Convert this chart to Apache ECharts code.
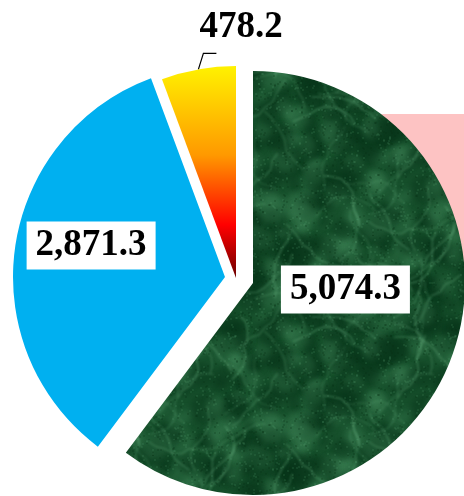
<!DOCTYPE html>
<html>
<head>
<meta charset="utf-8">
<script src="https://cdn.jsdelivr.net/npm/echarts@6/dist/echarts.min.js"></script>
<style>
  html, body { margin: 0; padding: 0; background: #fff; }
  #main { width: 464px; height: 496px; }
</style>
</head>
<body>
<div id="main"></div>
<script>
// data
var names = ['Item 1', 'Item 2', 'Item 3'];
var values = [5074.3, 2871.3, 478.2];

// small seeded generator, only used for the marble texture
function seeded(seed) {
  return function () {
    seed |= 0; seed = seed + 0x6D2B79F5 | 0;
    var t = Math.imul(seed ^ seed >>> 15, 1 | seed);
    t = t + Math.imul(t ^ t >>> 7, 61 | t) ^ t;
    return ((t ^ t >>> 14) >>> 0) / 4294967296;
  };
}

// green marble fill (tile wraps at the edges so no seams show)
function marble() {
  var W = 220;
  var c = document.createElement('canvas');
  c.width = W; c.height = W;
  var ctx = c.getContext('2d');
  var rnd = seeded(11);
  ctx.fillStyle = '#17502c';
  ctx.fillRect(0, 0, W, W);
  function wrap(draw) {
    for (var ox = -W; ox <= W; ox += W) {
      for (var oy = -W; oy <= W; oy += W) draw(ox, oy);
    }
  }
  ctx.filter = 'blur(3px)';
  for (var i = 0; i < 260; i++) {
    var x = rnd() * W, y = rnd() * W, r = 4 + rnd() * 12;
    var col = rnd() < 0.55 ? 'rgba(6,52,24,0.45)' : 'rgba(70,140,95,0.28)';
    wrap(function (ox, oy) {
      ctx.fillStyle = col;
      ctx.beginPath(); ctx.arc(x + ox, y + oy, r, 0, Math.PI * 2); ctx.fill();
    });
  }
  ctx.filter = 'blur(1.2px)';
  for (var j = 0; j < 40; j++) {
    var pts = [[rnd() * W, rnd() * W]];
    var ang = rnd() * Math.PI * 2;
    for (var k = 0; k < 8; k++) {
      var last = pts[pts.length - 1];
      ang += (rnd() - 0.5) * 1.2;
      pts.push([last[0] + Math.cos(ang) * 9, last[1] + Math.sin(ang) * 9]);
    }
    var a = 0.15 + rnd() * 0.2;
    wrap(function (ox, oy) {
      ctx.strokeStyle = 'rgba(120,195,145,' + a + ')';
      ctx.lineWidth = 1.6;
      ctx.beginPath();
      ctx.moveTo(pts[0][0] + ox, pts[0][1] + oy);
      for (var m = 1; m < pts.length; m++) ctx.lineTo(pts[m][0] + ox, pts[m][1] + oy);
      ctx.stroke();
    });
  }
  ctx.filter = 'none';
  for (var n = 0; n < 1800; n++) {
    ctx.fillStyle = rnd() < 0.5 ? 'rgba(5,45,20,0.22)' : 'rgba(90,160,115,0.15)';
    ctx.fillRect(Math.floor(rnd() * W), Math.floor(rnd() * W), 2, 2);
  }
  return c;
}

var fills = [
  { image: marble(), repeat: 'repeat' },
  '#00b0f0',
  new echarts.graphic.LinearGradient(0, 0, 0, 1, [
    { offset: 0, color: '#fff200' },
    { offset: 0.42, color: '#ff9900' },
    { offset: 0.75, color: '#ff0000' },
    { offset: 1, color: '#6b0000' }
  ])
];

// each slice is pulled out on its own, so one pie per slice
var centers = [[253, 283], [225, 277], [236, 278]];
var labelOffsets = [[-11, -28], [-26, -16], [0, 0]];

function fmt(v) {
  return v.toLocaleString('en-US', { minimumFractionDigits: 1, maximumFractionDigits: 1 });
}

var series = [];
for (var s = 0; s < values.length; s++) {
  var outside = s === 2;
  series.push({
    type: 'pie',
    center: centers[s],
    radius: 212,
    startAngle: 90,
    clockwise: true,
    silent: true,
    avoidLabelOverlap: false,
    minShowLabelAngle: 0,
    label: {
      show: true,
      position: outside ? 'outside' : 'inside',
      formatter: function (p) { return fmt(p.value); },
      fontFamily: 'Liberation Serif',
      fontWeight: 'bold',
      fontSize: 37,
      color: '#000',
      backgroundColor: outside ? 'transparent' : '#fff',
      padding: outside ? 0 : [6, 9, 5, 9],
      offset: labelOffsets[s]
    },
    labelLine: {
      show: outside,
      length: 15,
      length2: 12,
      lineStyle: { color: '#000', width: 1.2 }
    },
    // outside label sits above the slice; leader starts where the pie puts it
    labelLayout: outside ? function (p) {
      var a = p.labelLinePoints ? p.labelLinePoints[0] : [198, 68];
      var b = [a[0] + 5, a[1] - 16];
      return {
        x: 241, y: 27, align: 'center', verticalAlign: 'middle',
        labelLinePoints: [a, b, [b[0] + 13, b[1]]]
      };
    } : null,
    data: values.map(function (v, i) {
      return {
        name: names[i],
        value: v,
        itemStyle: { color: i === s ? fills[s] : 'transparent' },
        label: { show: i === s },
        labelLine: { show: i === s && outside }
      };
    })
  });
}

var chart = echarts.init(document.getElementById('main'));
chart.setOption({
  animation: false,
  backgroundColor: '#fff',
  graphic: [{
    type: 'rect',
    z: -10,
    shape: { x: 370, y: 114, width: 94, height: 150 },
    style: { fill: '#fdc3c3' }
  }],
  series: series
});
</script>
</body>
</html>
